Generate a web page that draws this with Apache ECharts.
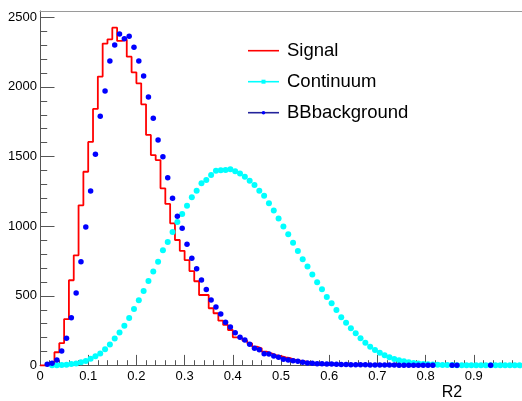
<!DOCTYPE html>
<html>
<head>
<meta charset="utf-8">
<script src="https://cdn.jsdelivr.net/npm/echarts@6/dist/echarts.min.js"></script>
<style>
  html, body { margin: 0; padding: 0; background: #fff; }
  #chart { width: 522px; height: 401px; }
</style>
</head>
<body>
<div id="chart"></div>
<script>
// Histogram binning: 100 bins over R2 in [0, 1]
const BIN_WIDTH = 0.01;
const X_MIN = 0, X_MAX = 1;
const Y_MAX = 2545;
const Y_MAJOR = 500, Y_MINOR = 100;

// Signal: bin contents (drawn as a stepped outline)
const signal = [
  0, 3, 15, 95, 160, 333, 612, 791, 1150, 1391,
  1605, 1842, 2074, 2311, 2342, 2425, 2330, 2340, 2217, 2105,
  2026, 1875, 1655, 1511, 1475, 1272, 1160, 1021, 901, 823,
  757, 678, 605, 506, 506, 411, 375, 322, 291, 255,
  202, 195, 178, 159, 135, 123, 99, 88, 75, 68,
  59, 52, 40, 34, 30, 23, 18, 15, 12, 10,
  9, 8, 7, 6, 5, 5, 4, 4, 3, 3,
  3, 2, 2, 2, 1, 1, 1, 1, 1, 1,
  1, 0, 0, 0, 0, 0, 0, 0, 0, 0,
  0, 0, 0, 0, 0, 0, 0, 0, 0, 0
];

// Continuum: bin contents (markers at bin centres, empty bins = null)
const continuum = [
  null, null, 1, 2, 4, 6, 10, 15, 23, 33,
  48, 66, 86, 117, 151, 193, 237, 285, 341, 405,
  468, 535, 606, 675, 745, 827, 887, 959, 1030, 1088,
  1147, 1208, 1255, 1308, 1332, 1368, 1398, 1402, 1404, 1409,
  1395, 1378, 1355, 1326, 1295, 1255, 1219, 1165, 1112, 1055,
  998, 943, 881, 822, 763, 711, 653, 598, 548, 491,
  447, 398, 346, 307, 267, 231, 195, 164, 135, 111,
  92, 73, 59, 47, 37, 30, 23, 18, 14, 11,
  9, 7, 5, 4, 3, 3, 2, 2, 2, 1,
  1, 1, 1, 1, 1, 1, 1, 1, 1, 1
];

// BB background: bin contents (markers at bin centres, empty bins = null)
const bbBackground = [
  null, 9, 16, 39, 104, 195, 343, 520, 745, 994,
  1253, 1516, 1789, 1971, 2186, 2301, 2380, 2346, 2364, 2285,
  2186, 2079, 1928, 1775, 1619, 1499, 1348, 1200, 1072, 986,
  870, 770, 695, 614, 545, 470, 420, 370, 310, 276,
  235, 202, 183, 152, 123, 113, 85, 83, 68, 59,
  45, 40, 34, 30, 23, 18, 17, 13, 12, 11,
  10, 9, 8, 7, 6, 6, 5, 5, 4, 4,
  4, 3, 3, 3, 2, 2, 2, 2, 1, 1,
  1, 1, null, null, null, 1, 1, null, null, null,
  null, null, null, 1, null, null, null, null, null, null
];

const seriesNames = ['Signal', 'Continuum', 'BBbackground'];
const colors = { signal: '#ff0000', continuum: '#00ffff', bb: '#0000ff', bbLine: '#23239b' };
const axisTitle = 'R2';

// Build plotting data from the bin arrays
const binLowEdge = i => X_MIN + i * BIN_WIDTH;
const binCentre = i => X_MIN + (i + 0.5) * BIN_WIDTH;

const signalSteps = signal.map((v, i) => [binLowEdge(i), v]);
signalSteps.push([X_MAX, signal[signal.length - 1]]);

const toPoints = arr => arr.map((v, i) => [binCentre(i), v]);

const yMajorValues = [];
for (let v = 0; v <= Y_MAX; v += Y_MAJOR) yMajorValues.push(v);
const yMinorValues = [];
for (let v = Y_MINOR; v <= Y_MAX; v += Y_MINOR) if (v % Y_MAJOR !== 0) yMinorValues.push(v);

const FONT = '"Liberation Sans", Arial, Helvetica, sans-serif';
const AXIS_COLOR = '#555';

const chart = echarts.init(document.getElementById('chart'), null, { renderer: 'canvas' });

// Legend block (line + marker + label per series)
const legendX0 = 248, legendX1 = 279, legendTextX = 287;
const legendRows = [50.7, 81.7, 112.7];
const legendGraphics = [];
seriesNames.forEach((name, k) => {
  const y = legendRows[k];
  const lineColor = k === 0 ? colors.signal : (k === 1 ? colors.continuum : colors.bbLine);
  legendGraphics.push({
    type: 'line', silent: true,
    shape: { x1: legendX0, y1: y, x2: legendX1, y2: y },
    style: { stroke: lineColor, lineWidth: 1.6 }
  });
  if (k === 1) {
    legendGraphics.push({
      type: 'rect', silent: true,
      shape: { x: (legendX0 + legendX1) / 2 - 2, y: y - 2, width: 4, height: 4 },
      style: { fill: colors.continuum }
    });
  } else if (k === 2) {
    legendGraphics.push({
      type: 'circle', silent: true,
      shape: { cx: (legendX0 + legendX1) / 2, cy: y, r: 1.8 },
      style: { fill: colors.bb }
    });
  }
  legendGraphics.push({
    type: 'text', silent: true,
    x: legendTextX, y: y + 0.5,
    style: { text: name, font: '18.5px ' + FONT, fill: '#000', textVerticalAlign: 'middle', textAlign: 'left' }
  });
});

const option = {
  animation: false,
  backgroundColor: '#ffffff',
  grid: { left: 40, right: 0, top: 11, bottom: 35.5, containLabel: false },
  xAxis: [
    {
      type: 'value', position: 'bottom', min: X_MIN, max: X_MAX, interval: 0.1,
      axisLine: { show: true, onZero: false, lineStyle: { color: AXIS_COLOR, width: 1 } },
      axisTick: { show: true, inside: true, length: 10.6, lineStyle: { color: AXIS_COLOR } },
      minorTick: { show: true, splitNumber: 5, length: 5.3, lineStyle: { color: AXIS_COLOR } },
      axisLabel: { show: true, margin: 4, color: '#000', fontSize: 13, fontFamily: FONT,
        showMaxLabel: false,
        formatter: v => String(Math.round(v * 10) / 10) },
      splitLine: { show: false }
    },
    {
      // frame top edge
      type: 'value', position: 'top', min: X_MIN, max: X_MAX,
      axisLine: { show: true, onZero: false, lineStyle: { color: '#9a9a9a', width: 1 } },
      axisTick: { show: false }, axisLabel: { show: false }, splitLine: { show: false }
    }
  ],
  yAxis: [
    {
      type: 'value', position: 'left', min: 0, max: Y_MAX,
      axisLine: { show: true, onZero: false, lineStyle: { color: AXIS_COLOR, width: 1 } },
      axisTick: { show: true, inside: true, length: 14.5, customValues: yMajorValues, lineStyle: { color: AXIS_COLOR } },
      axisLabel: { show: true, margin: 3, color: '#000', fontSize: 13, fontFamily: FONT,
        customValues: yMajorValues, formatter: v => String(v) },
      splitLine: { show: false }
    },
    {
      // minor ticks on the count axis
      type: 'value', position: 'left', min: 0, max: Y_MAX,
      axisLine: { show: false },
      axisTick: { show: true, inside: true, length: 7.2, customValues: yMinorValues, lineStyle: { color: AXIS_COLOR } },
      axisLabel: { show: false }, splitLine: { show: false }
    }
  ],
  series: [
    {
      name: seriesNames[0], type: 'line', step: 'end', data: signalSteps,
      xAxisIndex: 0, yAxisIndex: 0,
      showSymbol: false, symbol: 'none',
      lineStyle: { color: colors.signal, width: 1.8 },
      z: 2
    },
    {
      name: seriesNames[1], type: 'scatter', data: toPoints(continuum),
      xAxisIndex: 0, yAxisIndex: 0,
      symbol: 'circle', symbolSize: 6,
      itemStyle: { color: colors.continuum, opacity: 1 },
      z: 3
    },
    {
      name: seriesNames[2], type: 'scatter', data: toPoints(bbBackground),
      xAxisIndex: 0, yAxisIndex: 0,
      symbol: 'circle', symbolSize: 5.5,
      itemStyle: { color: colors.bb, opacity: 1 },
      z: 4
    }
  ],
  graphic: legendGraphics.concat([
    {
      type: 'text', silent: true, x: 452, y: 393,
      style: { text: axisTitle, font: '16px ' + FONT, fill: '#000', textAlign: 'center', textVerticalAlign: 'middle' }
    }
  ])
};

chart.setOption(option);
</script>
</body>
</html>
